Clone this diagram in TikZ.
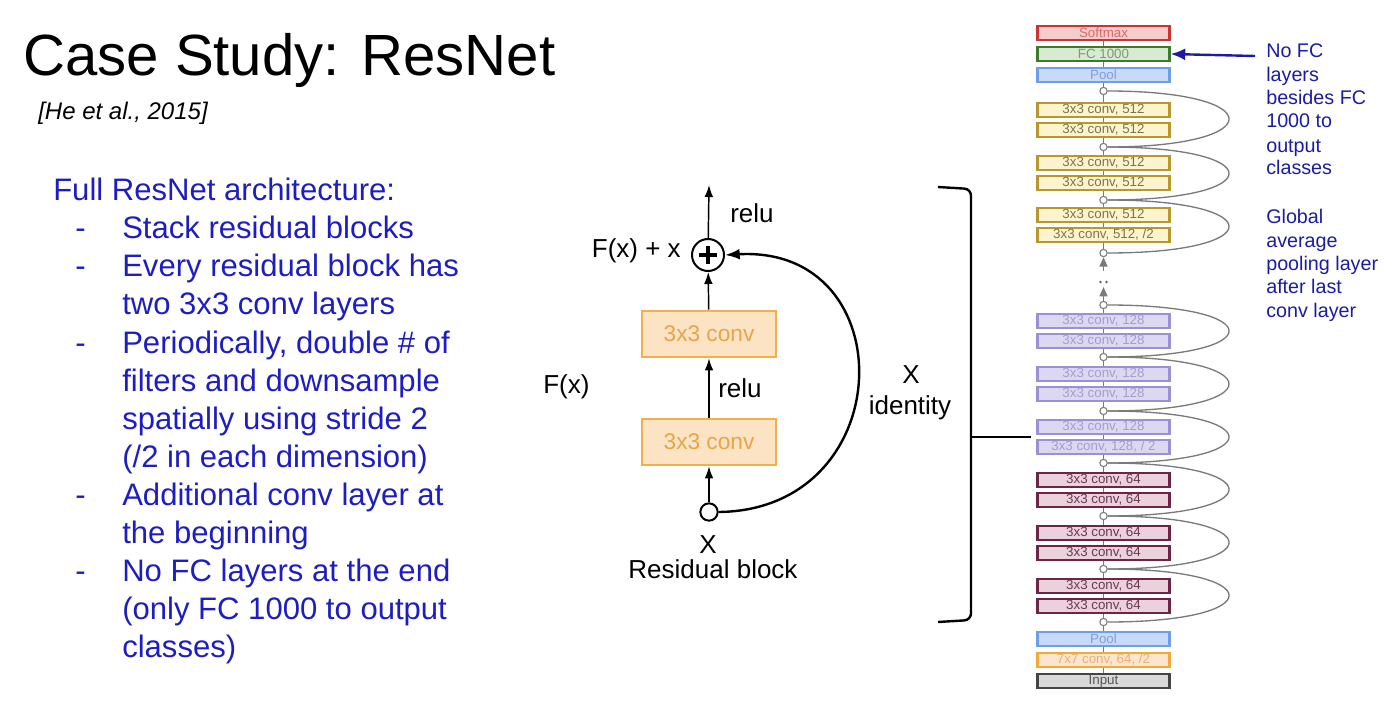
\documentclass[tikz,border=0pt]{standalone}
\usepackage{fontspec}
\setmainfont{Liberation Sans}
\usetikzlibrary{arrows.meta,calc}
\pgfdeclarelayer{bg}
\pgfsetlayers{bg,main}

\definecolor{lblue}{HTML}{1E1EC0}
\definecolor{rblue}{HTML}{1C1CA0}
\definecolor{convD}{HTML}{F2B04A}
\definecolor{convF}{HTML}{FBE3C4}
\definecolor{convT}{HTML}{E8A449}
\definecolor{smD}{HTML}{CC3333}\definecolor{smF}{HTML}{F4CCCC}\definecolor{smT}{HTML}{D46A6A}
\definecolor{fcD}{HTML}{3D7A2A}\definecolor{fcF}{HTML}{D9EAD3}\definecolor{fcT}{HTML}{7A9A70}
\definecolor{plD}{HTML}{6D9EEB}\definecolor{plF}{HTML}{C9DAF8}\definecolor{plT}{HTML}{7F9FD8}
\definecolor{gD}{HTML}{B8982A}\definecolor{gF}{HTML}{FCF3CF}\definecolor{gT}{HTML}{7D7350}
\definecolor{pD}{HTML}{9C8FD8}\definecolor{pF}{HTML}{DCD8F0}\definecolor{pT}{HTML}{A49ED0}
\definecolor{mD}{HTML}{6E2445}\definecolor{mF}{HTML}{EAD1DC}\definecolor{mT}{HTML}{6A3A52}
\definecolor{oD}{HTML}{F2A93B}\definecolor{oF}{HTML}{FCE5CD}\definecolor{oT}{HTML}{E8B070}
\definecolor{iD}{HTML}{444444}\definecolor{iF}{HTML}{D9D9D9}\definecolor{iT}{HTML}{555555}
\definecolor{skipc}{HTML}{7A7A7A}

\begin{document}
\begin{tikzpicture}[x=0.75pt,y=-0.75pt,
  lt/.style={anchor=base west, text=lblue, inner sep=0pt, font=\fontsize{23.3}{27}\selectfont},
  rt/.style={anchor=base west, text=rblue, inner sep=0pt, font=\fontsize{14.8}{18}\selectfont},
  rb/.style={inner sep=0pt, font=\fontsize{19.5}{23}\selectfont},
  convbox/.style={draw=convD, fill=convF, text=convT, line width=1.5pt, minimum width=101pt, minimum height=35pt, inner sep=0pt, font=\fontsize{17}{20}\selectfont},
  arr/.style={line width=1.1pt, -{Latex[length=9pt,width=6.5pt]}},
  layer/.style={line width=1.6pt, minimum width=99pt, minimum height=10.2pt, inner sep=0pt, font=\fontsize{10}{10}\selectfont},
  smax/.style={layer, draw=smD, fill=smF, text=smT},
  fcl/.style={layer, draw=fcD, fill=fcF, text=fcT},
  pooll/.style={layer, draw=plD, fill=plF, text=plT},
  gl/.style={layer, draw=gD, fill=gF, text=gT},
  pl/.style={layer, draw=pD, fill=pF, text=pT},
  ml/.style={layer, draw=mD, fill=mF, text=mT},
  ol/.style={layer, draw=oD, fill=oF, text=oT},
  il/.style={layer, draw=iD, fill=iF, text=iT},
  dotc/.style={circle, draw=skipc, fill=white, line width=0.8pt, minimum size=5.5pt, inner sep=0pt},
  skipl/.style={draw=skipc, line width=1pt},
  garr/.style={draw=skipc, line width=1pt, -{Triangle[length=7pt,width=6pt]}, skipc}
]
\path[use as bounding box] (0,0) rectangle (1384,706);

% title
\node[anchor=base west, inner sep=0pt, font=\fontsize{43.6}{48}\selectfont] (title) at (23,76) {Case Study: ResNet};
\node[anchor=base west, inner sep=0pt, font=\fontsize{18}{22}\selectfont\itshape] (ref) at (38,120) {[He et al., 2015]};

% left text
\node[lt] (h0) at (53,200) {Full ResNet architecture:};
\node[lt] (d1) at (75,238) {-};
\node[lt] (t1) at (122,238) {Stack residual blocks};
\node[lt] (d2) at (75,276) {-};
\node[lt] (t2) at (122,276) {Every residual block has};
\node[lt] (t3) at (122,314) {two 3x3 conv layers};
\node[lt] (d3) at (75,353) {-};
\node[lt] (t4) at (122,353) {Periodically, double \# of};
\node[lt] (t5) at (122,391) {filters and downsample};
\node[lt] (t6) at (122,429) {spatially using stride 2};
\node[lt] (t7) at (122,467) {(/2 in each dimension)};
\node[lt] (d4) at (75,505) {-};
\node[lt] (t8) at (122,505) {Additional conv layer at};
\node[lt] (t9) at (122,543) {the beginning};
\node[lt] (d5) at (75,581) {-};
\node[lt] (t10) at (122,581) {No FC layers at the end};
\node[lt] (t11) at (122,619) {(only FC 1000 to output};
\node[lt] (t12) at (122,657) {classes)};

% residual block
\node[convbox] (cb1) at (709,442) {3x3 conv};
\node[convbox] (cb2) at (709,334) {3x3 conv};
\node[circle, draw, line width=1.5pt, minimum size=24pt, inner sep=0pt] (plus) at (708,255) {};
\draw[line width=2.4pt] ([xshift=-6.5pt]plus.center) -- ([xshift=6.5pt]plus.center);
\draw[line width=2.4pt] ([yshift=-6.5pt]plus.center) -- ([yshift=6.5pt]plus.center);
\node[circle, draw, line width=1.5pt, minimum size=13pt, inner sep=0pt, fill=white] (inx) at (709,512) {};
\coordinate (outtop) at (709,185);
\draw[arr] (inx) -- (cb1);
\draw[arr] (cb1) -- (cb2);
\draw[arr] (cb2) -- (plus);
\draw[arr] (plus) -- (outtop);
\draw[line width=1.8pt, -{Latex[length=11pt,width=8pt]}] (inx.east) .. controls (900,510) and (905,245) .. (plus.east);

\node[rb, anchor=base west] (relu1) at (730,222) {relu};
\node[rb, anchor=base west] (relu2) at (718,397) {relu};
\node[rb, anchor=base east] (fxx) at (681,257) {F(x) + x};
\node[rb, anchor=base west] (fx) at (543,393) {F(x)};
\node[rb, anchor=base] (xin) at (708,553) {X};
\node[rb, anchor=base] (rbl) at (713,578) {Residual block};
\node[rb, anchor=base] (xid) at (911,383) {X};
\node[rb, anchor=base] (ident) at (910,414) {identity};

% bracket
\coordinate (bt) at (938,187);
\coordinate (bb) at (938,622);
\coordinate (bm) at (971,437);
\coordinate (bmr) at (1031,437);
\draw[line width=1.8pt, rounded corners=5pt] (bt) -- (971,189) -- (971,620) -- (bb);
\draw[line width=1.8pt] (bm) -- (bmr);

% stack
\def\cx{1103.5}
\node[smax] (sm) at (\cx,33) {Softmax};
\node[fcl] (fc) at (\cx,54) {FC 1000};
\node[pooll] (poolt) at (\cx,75) {Pool};
\node[dotc] (k1) at (\cx,91) {};
\node[gl] (g1) at (\cx,110) {3x3 conv, 512};
\node[gl] (g2) at (\cx,130) {3x3 conv, 512};
\node[dotc] (k2) at (\cx,147) {};
\node[gl] (g3) at (\cx,163) {3x3 conv, 512};
\node[gl] (g4) at (\cx,183) {3x3 conv, 512};
\node[dotc] (k3) at (\cx,200) {};
\node[gl] (g5) at (\cx,215) {3x3 conv, 512};
\node[gl] (g6) at (\cx,235) {3x3 conv, 512, /2};
\node[dotc] (k4) at (\cx,253) {};
\coordinate (a1) at (\cx,271);
\coordinate (a2) at (\cx,287);
\node[dotc] (k5) at (\cx,305) {};
\node[pl] (p1) at (\cx,321) {3x3 conv, 128};
\node[pl] (p2) at (\cx,341) {3x3 conv, 128};
\node[dotc] (k6) at (\cx,357) {};
\node[pl] (p3) at (\cx,374) {3x3 conv, 128};
\node[pl] (p4) at (\cx,394) {3x3 conv, 128};
\node[dotc] (k7) at (\cx,411) {};
\node[pl] (p5) at (\cx,427) {3x3 conv, 128};
\node[pl] (p6) at (\cx,447) {3x3 conv, 128, / 2};
\node[dotc] (k8) at (\cx,463) {};
\node[ml] (m1) at (\cx,480) {3x3 conv, 64};
\node[ml] (m2) at (\cx,500) {3x3 conv, 64};
\node[dotc] (k9) at (\cx,516) {};
\node[ml] (m3) at (\cx,533) {3x3 conv, 64};
\node[ml] (m4) at (\cx,553) {3x3 conv, 64};
\node[dotc] (k10) at (\cx,569) {};
\node[ml] (m5) at (\cx,586) {3x3 conv, 64};
\node[ml] (m6) at (\cx,606) {3x3 conv, 64};
\node[dotc] (k11) at (\cx,622) {};
\node[pooll] (poolb) at (\cx,639) {Pool};
\node[ol] (c7) at (\cx,660) {7x7 conv, 64, /2};
\node[il] (inp) at (\cx,681) {Input};

\begin{pgfonlayer}{bg}
\draw[skipl] (inp) -- (k5);
\draw[skipl] (k4) -- (sm);
\foreach \a/\b in {k1/k2,k2/k3,k3/k4,k5/k6,k6/k7,k7/k8,k8/k9,k9/k10,k10/k11}{
  \draw[skipl] (\a) .. controls ($(\a.center)+(166,0)$) and ($(\b.center)+(166,0)$) .. (\b);
}
\end{pgfonlayer}
\draw[garr] (a1) -- (k4);
\draw[garr] (k5) -- (a2);
\fill[skipc!80!black] (1100.5,282) circle (1.3);
\fill[skipc!80!black] (1106.5,282) circle (1.3);

% blue arrow + notes
\coordinate (ba) at (1255,56);
\draw[line width=1.8pt, draw=rblue, -{Latex[length=11pt,width=9pt]}] (ba) -- (fc.east);
\node[rt] (n1) at (1266,58) {No FC};
\node[rt] (n2) at (1266,82) {layers};
\node[rt] (n3) at (1266,105) {besides FC};
\node[rt] (n4) at (1266,128) {1000 to};
\node[rt] (n5) at (1266,152) {output};
\node[rt] (n6) at (1266,175) {classes};
\node[rt] (n7) at (1266,223) {Global};
\node[rt] (n8) at (1266,247) {average};
\node[rt] (n9) at (1266,270) {pooling layer};
\node[rt] (n10) at (1266,293) {after last};
\node[rt] (n11) at (1266,317) {conv layer};
\end{tikzpicture}
\end{document}
